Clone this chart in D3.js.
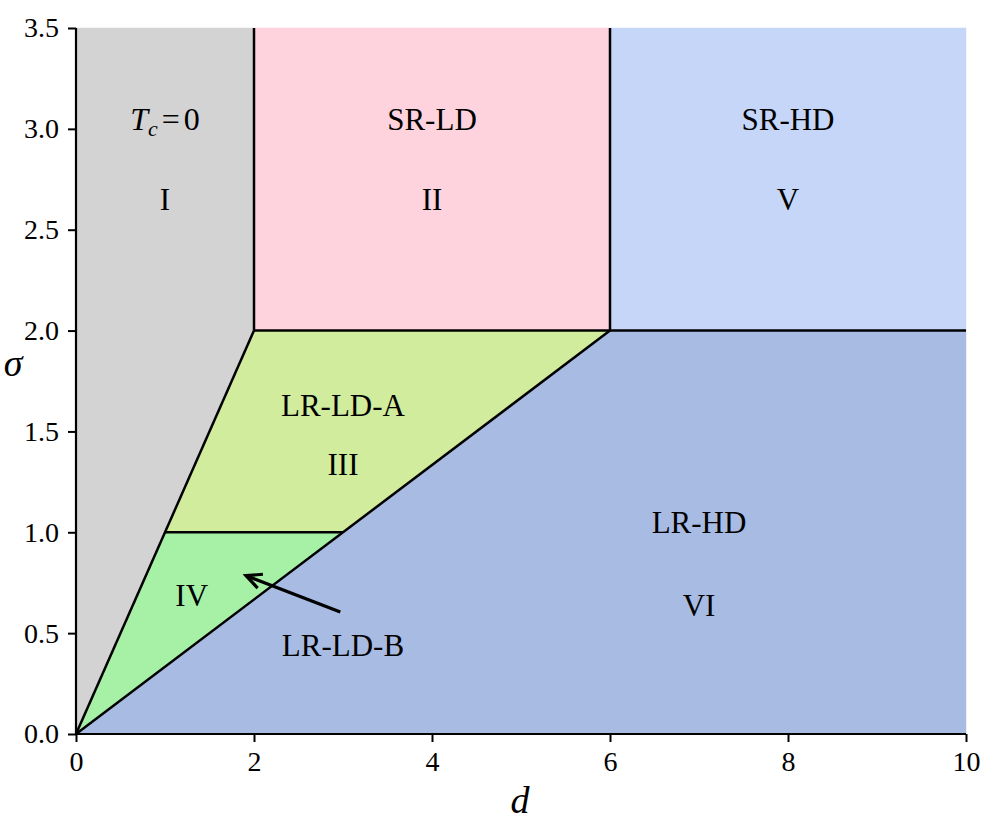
<!DOCTYPE html>
<html>
<head>
  <script src="https://d3js.org/d3.v7.min.js"></script>
  <style>
    body { margin: 0; background: #fff; }
    text { font-family: "Liberation Serif", "DejaVu Serif", serif; }
  </style>
</head>
<body>
  <div id="chart"></div>
  <script>
    // phase regions, corners given as [d, sigma]
    var regionNames = ['I', 'II', 'V', 'III', 'IV', 'VI'];
    var regionColors = ['#d3d3d3', '#fed3dd', '#c6d6f8', '#d1ec9d', '#a7f1a7', '#a8bce3'];
    var regionShapes = [
      [[0, 0], [0, 3.5], [2, 3.5], [2, 2]],
      [[2, 2], [2, 3.5], [6, 3.5], [6, 2]],
      [[6, 2], [6, 3.5], [10, 3.5], [10, 2]],
      [[1, 1], [2, 2], [6, 2], [3, 1]],
      [[0, 0], [1, 1], [3, 1]],
      [[0, 0], [6, 2], [10, 2], [10, 0]]
    ];

    // boundary lines
    var boundaries = [
      [[2, 2], [2, 3.5]],
      [[6, 2], [6, 3.5]],
      [[2, 2], [10, 2]],
      [[0, 0], [2, 2]],
      [[0, 0], [6, 2]],
      [[1, 1], [3, 1]]
    ];

    // labels: [d, sigma, text]
    var nameLabels = [
      [4, 3.05, 'SR-LD'],
      [8, 3.05, 'SR-HD'],
      [3, 1.63, 'LR-LD-A'],
      [3, 0.44, 'LR-LD-B'],
      [7, 1.05, 'LR-HD']
    ];
    var romanLabels = [
      [1, 2.65, 'I'],
      [4, 2.65, 'II'],
      [8, 2.65, 'V'],
      [3, 1.34, 'III'],
      [1.3, 0.69, 'IV'],
      [7, 0.64, 'VI']
    ];
    var tcLabel = [1, 3.05];
    var arrowFrom = [2.97, 0.605];
    var arrowTo = [1.91, 0.785];

    var xTicks = [0, 2, 4, 6, 8, 10];
    var yTicks = [0, 0.5, 1, 1.5, 2, 2.5, 3, 3.5];

    var margin = { top: 28, right: 32, bottom: 93, left: 76 };
    var width = 998 - margin.left - margin.right;
    var height = 827 - margin.top - margin.bottom;

    var svg = d3.select('#chart').append('svg')
      .attr('width', 998)
      .attr('height', 827);
    var g = svg.append('g')
      .attr('transform', 'translate(' + margin.left + ',' + margin.top + ')');

    var x = d3.scaleLinear().domain([0, 10]).range([0, width]);
    var y = d3.scaleLinear().domain([0, 3.5]).range([height, 0]);

    var line = d3.line()
      .x(function(p) { return x(p[0]); })
      .y(function(p) { return y(p[1]); });

    g.selectAll('.region')
      .data(regionShapes)
      .enter()
      .append('path')
      .attr('class', 'region')
      .attr('d', function(d) { return line(d) + 'Z'; })
      .attr('fill', function(d, i) { return regionColors[i]; })
      .attr('stroke', function(d, i) { return regionColors[i]; })
      .attr('stroke-width', 0.5);

    g.selectAll('.boundary')
      .data(boundaries)
      .enter()
      .append('path')
      .attr('class', 'boundary')
      .attr('d', line)
      .attr('fill', 'none')
      .attr('stroke', '#000')
      .attr('stroke-width', 2.5);

    // arrow (open head)
    var ax0 = x(arrowFrom[0]), ay0 = y(arrowFrom[1]);
    var ax1 = x(arrowTo[0]), ay1 = y(arrowTo[1]);
    var ang = Math.atan2(ay1 - ay0, ax1 - ax0);
    var headLen = 17, headAng = 0.45;
    g.append('path')
      .attr('d', 'M' + ax0 + ',' + ay0 + 'L' + ax1 + ',' + ay1)
      .attr('stroke', '#000')
      .attr('stroke-width', 3.2)
      .attr('fill', 'none');
    g.append('path')
      .attr('d', 'M' + (ax1 - headLen * Math.cos(ang - headAng)) + ',' + (ay1 - headLen * Math.sin(ang - headAng)) +
        'L' + ax1 + ',' + ay1 +
        'L' + (ax1 - headLen * Math.cos(ang + headAng)) + ',' + (ay1 - headLen * Math.sin(ang + headAng)))
      .attr('stroke', '#000')
      .attr('stroke-width', 3.2)
      .attr('fill', 'none');

    g.selectAll('.name')
      .data(nameLabels)
      .enter()
      .append('text')
      .attr('class', 'name')
      .attr('x', function(d) { return x(d[0]); })
      .attr('y', function(d) { return y(d[1]); })
      .attr('text-anchor', 'middle')
      .attr('dy', '0.35em')
      .style('font-size', '31px')
      .attr('fill', '#000')
      .text(function(d) { return d[2]; });

    g.selectAll('.roman')
      .data(romanLabels)
      .enter()
      .append('text')
      .attr('class', 'roman')
      .attr('x', function(d) { return x(d[0]); })
      .attr('y', function(d) { return y(d[1]); })
      .attr('text-anchor', 'middle')
      .attr('dy', '0.35em')
      .style('font-size', '31px')
      .attr('fill', '#000')
      .text(function(d) { return d[2]; });

    var tc = g.append('text')
      .attr('x', x(tcLabel[0]))
      .attr('y', y(tcLabel[1]))
      .attr('text-anchor', 'middle')
      .attr('dy', '0.35em')
      .style('font-size', '32px')
      .attr('fill', '#000');
    tc.append('tspan').attr('font-style', 'italic').text('T');
    tc.append('tspan').attr('font-style', 'italic').style('font-size', '22px').attr('dy', '6').text('c');
    tc.append('tspan').attr('dy', '-6').attr('dx', '4').text('=');
    tc.append('tspan').attr('dx', '4').text('0');

    // axes: left and bottom spines only
    var xAxis = g.append('g')
      .attr('transform', 'translate(0,' + height + ')')
      .call(d3.axisBottom(x).tickValues(xTicks).tickSize(8).tickPadding(9).tickFormat(d3.format('d')));
    var yAxis = g.append('g')
      .call(d3.axisLeft(y).tickValues(yTicks).tickSize(8).tickPadding(9).tickFormat(d3.format('.1f')));

    [xAxis, yAxis].forEach(function(a) {
      a.selectAll('.tick line').attr('stroke-width', 2);
      a.selectAll('.tick text')
        .style('font-size', '28px')
        .style('font-family', '"Liberation Serif", serif')
        .attr('fill', '#000');
    });
    xAxis.select('.domain').attr('stroke-width', 2.2).attr('d', 'M0,0H' + width);
    yAxis.select('.domain').attr('stroke-width', 2.2).attr('d', 'M0,0V' + height);

    g.append('text')
      .attr('x', width / 2 - 1)
      .attr('y', height + 79)
      .attr('text-anchor', 'middle')
      .style('font-size', '38px')
      .attr('font-style', 'italic')
      .text('d');

    g.append('text')
      .attr('x', -63)
      .attr('y', y(1.84))
      .attr('text-anchor', 'middle')
      .attr('dy', '0.35em')
      .style('font-size', '38px')
      .attr('font-style', 'italic')
      .text('σ');
  </script>
</body>
</html>
